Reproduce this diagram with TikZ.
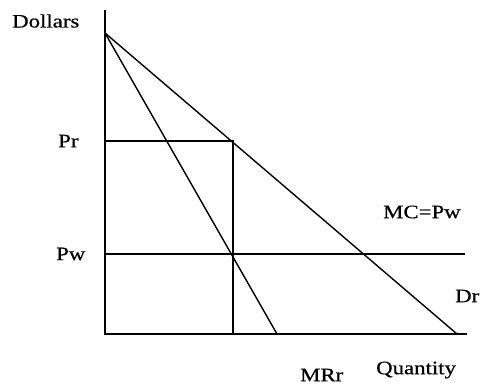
\documentclass[tikz,border=0pt]{standalone}
\usepackage{fontspec}
\setmainfont{Liberation Serif}[FakeStretch=1.2,FakeBold=0.6]
\begin{document}
\begin{tikzpicture}[x=1pt,y=-1pt,
  curve/.style={line width=1.4pt,black},
  lbl/.style={font=\fontsize{19}{22}\selectfont,inner sep=0pt,anchor=west}]
\useasboundingbox (0,0) rectangle (481,385);
% coordinates
\coordinate (top) at (105,10);
\coordinate (O) at (105,334);
\coordinate (xend) at (467,334);
\coordinate (A) at (105,33);
\coordinate (Dend) at (457,334);
\coordinate (MRend) at (277,334);
\coordinate (PrL) at (105,141);
\coordinate (PrR) at (233,141);
\coordinate (Qr) at (233,334);
\coordinate (PwL) at (105,254);
\coordinate (PwR) at (465,254);
% axes
\draw[curve] (top) -- (O) -- (xend);
% demand and MR
\draw[curve] (A) -- (Dend);
\draw[curve] (A) -- (MRend);
% price lines
\draw[curve] (PrL) -- (PrR) -- (Qr);
\draw[curve] (PwL) -- (PwR);
% labels
\node[lbl] (dollars) at (12,21) {Dollars};
\node[lbl] (pr) at (58,141) {Pr};
\node[lbl] (pw) at (56,254) {Pw};
\node[lbl] (mc) at (383,212) {MC=Pw};
\node[lbl] (dr) at (455,296) {Dr};
\node[lbl] (mrr) at (300,375) {MRr};
\node[lbl] (qty) at (376,370) {Quantity};
\end{tikzpicture}
\end{document}
